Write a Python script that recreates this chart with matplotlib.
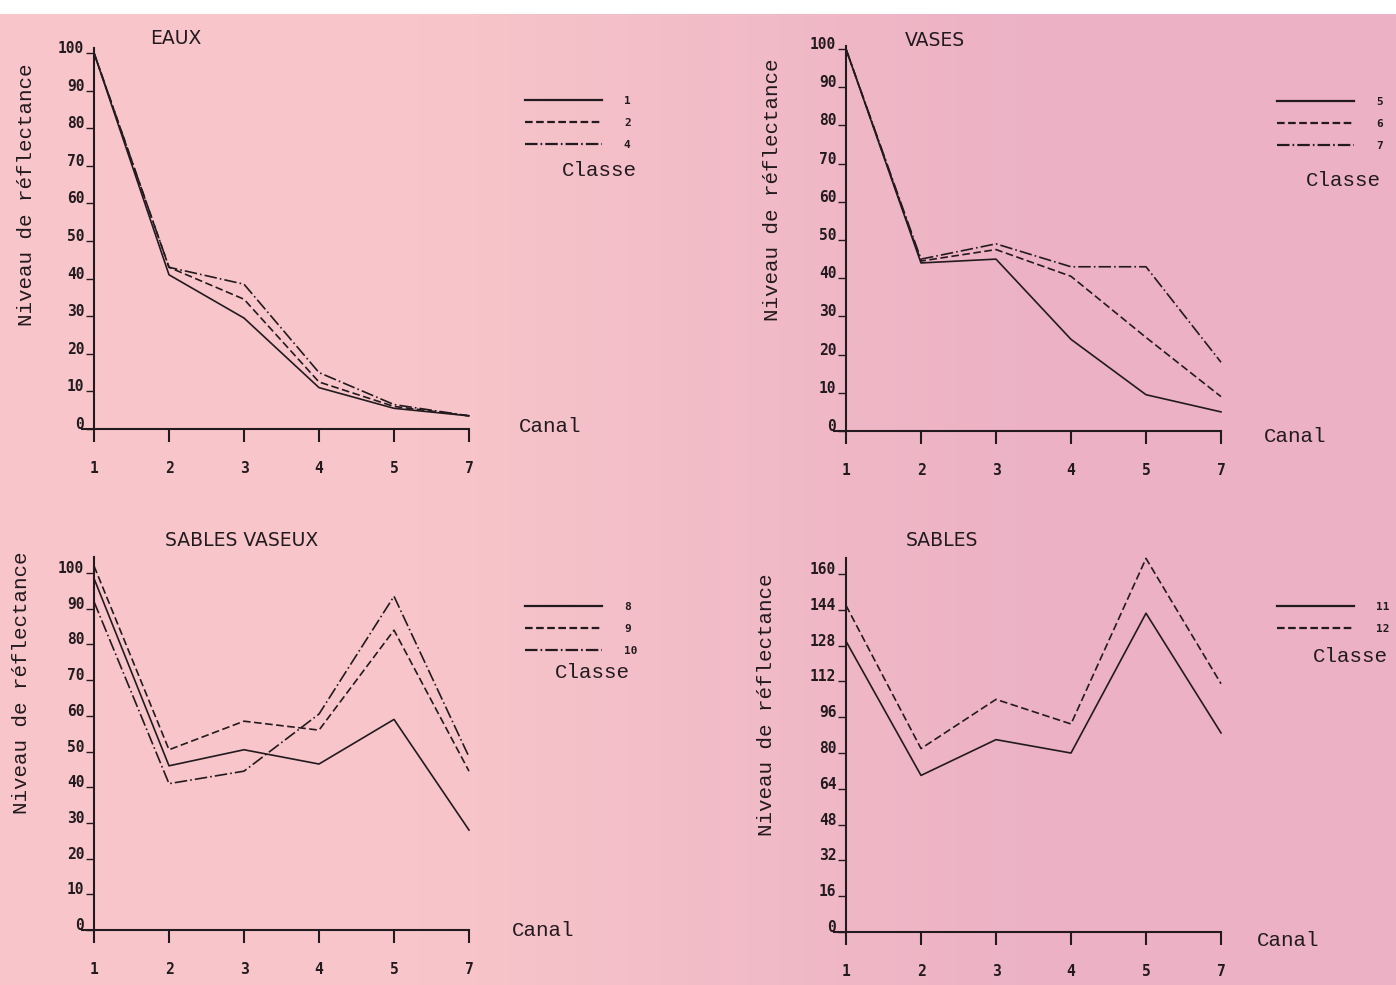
import numpy as np
import matplotlib.pyplot as plt

plt.rcParams['lines.scale_dashes'] = False

# =============================================================================
# Données : niveaux de réflectance par canal et par classe
# =============================================================================
canaux = ['1', '2', '3', '4', '5', '7']

eaux_classes = ['1', '2', '4']
eaux_c1 = [100, 41, 29.5, 11, 5.5, 3.5]
eaux_c2 = [100, 43, 34.5, 12.5, 6, 3.5]
eaux_c4 = [100, 43, 38.5, 15, 6.5, 3.5]

vases_classes = ['5', '6', '7']
vases_c5 = [100, 44, 45, 24, 9.5, 5]
vases_c6 = [100, 44.5, 47.5, 40.5, 24.5, 9]
vases_c7 = [100, 45, 49, 43, 43, 18]

sv_classes = ['8', '9', '10']
sv_c8 = [98.5, 46, 50.5, 46.5, 59, 28]
sv_c9 = [102, 50.5, 58.5, 56, 84, 44.5]
sv_c10 = [92, 41, 44.5, 60.5, 93.5, 48.5]

sables_classes = ['11', '12']
sables_c11 = [130, 70, 86, 80, 142.5, 89]
sables_c12 = [146, 82, 104, 93, 167, 111]

# =============================================================================
# Styles
# =============================================================================
W, H = 1396, 985
ENCRE = '#231a1f'
STYLES = ['-', (0, (5.5, 2.5)), (0, (9, 2.2, 1.2, 2.2))]
POLICE_TXT = 'Liberation Mono'
POLICE_NUM = 'DejaVu Sans Mono'

fig = plt.figure(figsize=(W / 100, H / 100), dpi=100)
fig.patch.set_facecolor('white')

# fond rose (papier) avec une légère variation gauche -> droite
fond = fig.add_axes([0, 0, 1, 1 - 14 / H], zorder=-5)
gauche = np.array([248, 198, 202]) / 255
droite = np.array([236, 177, 197]) / 255
t = np.clip((np.linspace(0, 1, 400) - 0.3) / 0.45, 0, 1)
degrade = gauche[None, :] * (1 - t[:, None]) + droite[None, :] * t[:, None]
fond.imshow(degrade[None, :, :], aspect='auto', extent=[0, 1, 0, 1])
fond.axis('off')


def fx(px):
    return px / W


def fy(py):
    return 1 - py / H


def panneau(titre, series, classes, yticks, ymax,
            axe_x, x7, y0, haut, pos_titre, pos_ylabel,
            pos_canal, pos_classe, pos_legende):
    pas = (x7 - axe_x) / 5
    gauche_px = axe_x - 12
    ax = fig.add_axes([fx(gauche_px), fy(y0), (x7 - gauche_px) / W, (y0 - haut) / H])
    ax.set_facecolor('none')
    ax.set_xlim(-(axe_x - gauche_px) / pas, 5)
    ax.set_ylim(0, ymax)

    x = np.arange(len(canaux))
    lignes = []
    for valeurs, style in zip(series, STYLES):
        l, = ax.plot(x, valeurs, color=ENCRE, lw=1.2, ls=style, clip_on=False)
        lignes.append(l)

    for cote in ['top', 'right']:
        ax.spines[cote].set_visible(False)
    ax.spines['left'].set_position(('data', 0))
    ax.spines['left'].set_linewidth(1.5)
    ax.spines['bottom'].set_linewidth(1.5)
    ax.spines['left'].set_color(ENCRE)
    ax.spines['bottom'].set_color(ENCRE)

    ax.set_xticks(x)
    ax.set_xticklabels(canaux)
    ax.set_yticks(yticks)
    ax.set_yticklabels([str(v) for v in yticks])
    ax.tick_params(axis='x', direction='out', length=9, width=1.5, pad=14,
                   colors=ENCRE)
    ax.tick_params(axis='y', direction='out', length=6, width=1.0, pad=1,
                   colors=ENCRE)
    for lab in ax.get_xticklabels() + ax.get_yticklabels():
        lab.set_fontfamily(POLICE_NUM)
        lab.set_fontweight('bold')
        lab.set_fontsize(10.5)
    for lab in ax.get_yticklabels():
        lab.set_va('baseline')

    fig.text(fx(pos_titre[0]), fy(pos_titre[1]), titre, ha='center', va='center',
             fontsize=13.5, family='DejaVu Sans', color=ENCRE)
    fig.text(fx(pos_ylabel[0]), fy(pos_ylabel[1]), 'Niveau de réflectance',
             rotation=90, ha='center', va='center', fontsize=15,
             family=POLICE_TXT, color=ENCRE)
    fig.text(fx(pos_canal[0]), fy(pos_canal[1]), 'Canal', ha='center', va='center',
             fontsize=15, family=POLICE_TXT, color=ENCRE)
    fig.text(fx(pos_classe[0]), fy(pos_classe[1]), 'Classe', ha='center', va='center',
             fontsize=15, family=POLICE_TXT, color=ENCRE)

    leg = ax.legend(lignes, classes, loc='upper left',
                    bbox_to_anchor=(fx(pos_legende[0]), fy(pos_legende[1])),
                    bbox_transform=fig.transFigure, frameon=False,
                    prop={'family': POLICE_NUM, 'weight': 'bold', 'size': 8},
                    handlelength=6.9, handletextpad=2.0, labelspacing=1.08,
                    borderpad=0, borderaxespad=0)
    for txt in leg.get_texts():
        txt.set_color(ENCRE)
    for ligne in leg.get_lines():
        ligne.set_linewidth(1.6)
    return ax


panneau('EAUX', [eaux_c1, eaux_c2, eaux_c4], eaux_classes,
        list(range(0, 101, 10)), 101.3,
        axe_x=94, x7=469, y0=429, haut=48,
        pos_titre=(176, 38), pos_ylabel=(27, 195),
        pos_canal=(550, 427), pos_classe=(599, 170), pos_legende=(525, 96))

panneau('VASES', [vases_c5, vases_c6, vases_c7], vases_classes,
        list(range(0, 101, 10)), 100.8,
        axe_x=846, x7=1221, y0=431, haut=46,
        pos_titre=(935, 40), pos_ylabel=(772, 190),
        pos_canal=(1295, 437), pos_classe=(1343, 181), pos_legende=(1277, 97))

panneau('SABLES VASEUX', [sv_c8, sv_c9, sv_c10], sv_classes,
        list(range(0, 101, 10)), 104.5,
        axe_x=94, x7=469, y0=930, haut=557,
        pos_titre=(242, 540), pos_ylabel=(22, 683),
        pos_canal=(543, 930), pos_classe=(592, 672), pos_legende=(525, 602))

panneau('SABLES', [sables_c11, sables_c12], sables_classes,
        list(range(0, 161, 16)), 167.2,
        axe_x=846, x7=1221, y0=932, haut=558,
        pos_titre=(942, 541), pos_ylabel=(767, 705),
        pos_canal=(1288, 941), pos_classe=(1350, 657), pos_legende=(1277, 602))

fig.savefig('out.png', dpi=100)
